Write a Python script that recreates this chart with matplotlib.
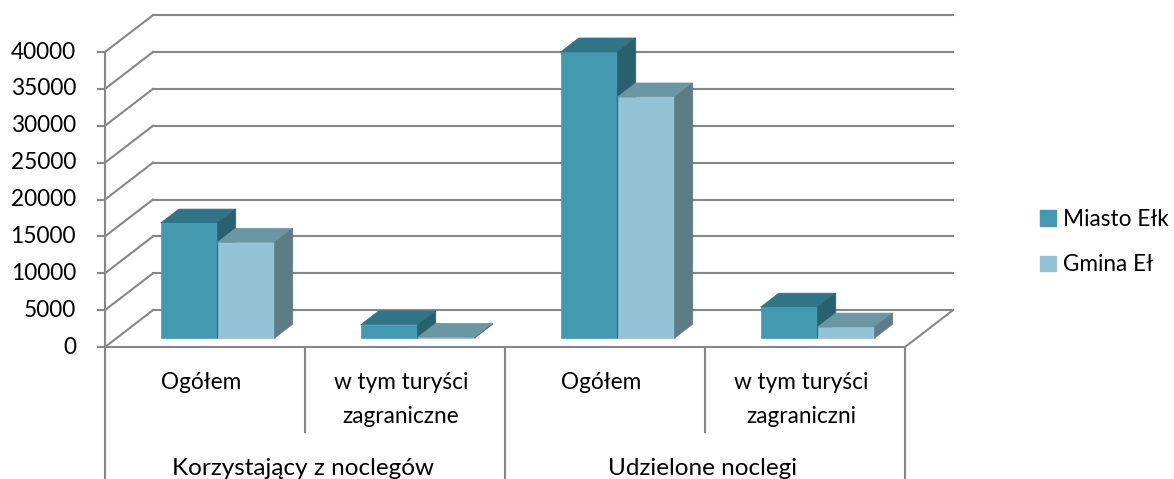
import matplotlib.pyplot as plt
from matplotlib.patches import Polygon, Patch

# data
groups = ['Korzystający z noclegów', 'Udzielone noclegi']
categories = ['Ogółem', 'w tym turyści\nzagraniczne', 'Ogółem', 'w tym turyści\nzagraniczni']
series = ['Miasto Ełk', 'Gmina Eł']
miasto = [15600, 1800, 38800, 4200]
gmina = [13000, 100, 32700, 1500]
yticks = [0, 5000, 10000, 15000, 20000, 25000, 30000, 35000, 40000]

# colours: front, top, side
cols = {
    'Miasto Ełk': ('#4299B0', '#307585', '#28606E'),
    'Gmina Eł': ('#94C3D5', '#6B97A3', '#5D7C86'),
}
grid_c = '#878787'

# oblique projection of the depth axis
DX, DY = 0.24, 5000
T0, T1 = 0.243, 0.62
BW = 0.285

plt.rcParams['font.family'] = ['Lato', 'DejaVu Sans']
fs = 16.3
fig = plt.figure(figsize=(11.74, 4.79), dpi=100)
ax = fig.add_axes([0, 0, 1, 1])
ax.set_xlim(-0.525, 5.345)
ax.set_ylim(-17898, 47051)
ax.axis('off')

lw = 1.5
n = len(categories)
for v in yticks:
    ax.plot([0, DX], [v, v + DY], color=grid_c, lw=lw, zorder=1)
    ax.plot([DX, n + DX], [v + DY, v + DY], color=grid_c, lw=lw, zorder=1)
    ax.plot([-0.035, 0], [v, v], color=grid_c, lw=lw, zorder=1)
    ax.text(-0.145, v, str(v), ha='right', va='center', fontsize=fs, color='black')
ax.plot([0, n], [0, 0], color=grid_c, lw=lw, zorder=1)
ax.plot([n, n + DX], [0, DY], color=grid_c, lw=lw, zorder=1)
ax.plot([0, 0], [0, yticks[-1]], color=grid_c, lw=lw, zorder=1)

# category axis dividers
for i in range(n + 1):
    bottom = -17898 if i % 2 == 0 else -11525
    ax.plot([i, i], [0, bottom], color=grid_c, lw=lw, zorder=1)

for i, lab in enumerate(categories):
    lines = lab.split('\n')
    for k, ln in enumerate(lines):
        ax.text(i + 0.48, -4881 - k * 4600, ln, ha='center', va='center', fontsize=fs, color='black')
for g, lab in enumerate(groups):
    ax.text(2 * g + 0.99, -16500, lab, ha='center', va='center', fontsize=17.5, color='black')


def box(x0, x1, v, name, z):
    front, top, side = cols[name]
    fy0, by0 = T0 * DY, T1 * DY
    fx, bx = T0 * DX, T1 * DX
    ax.add_patch(Polygon([(x0 + fx, fy0), (x1 + fx, fy0), (x1 + fx, v + fy0), (x0 + fx, v + fy0)],
                         closed=True, fc=front, ec=front, lw=0.5, zorder=z))
    ax.add_patch(Polygon([(x0 + fx, v + fy0), (x1 + fx, v + fy0), (x1 + bx, v + by0), (x0 + bx, v + by0)],
                         closed=True, fc=top, ec=top, lw=0.5, zorder=z))
    ax.add_patch(Polygon([(x1 + fx, fy0), (x1 + bx, by0), (x1 + bx, v + by0), (x1 + fx, v + fy0)],
                         closed=True, fc=side, ec=side, lw=0.5, zorder=z))


for i in range(n):
    c = i + 0.505
    box(c - BW, c, miasto[i], series[0], 3)
    box(c, c + BW, gmina[i], series[1], 4)

handles = [Patch(fc=cols[s][0], ec=cols[s][0], label=s) for s in series]
ax.legend(handles=handles, loc='center left', bbox_to_anchor=(1020 / 1174, 1 - 242 / 479),
          frameon=False, fontsize=fs, handlelength=0.7, handleheight=0.7,
          handletextpad=0.3, labelspacing=1.1)

plt.savefig('out.png', dpi=100)
